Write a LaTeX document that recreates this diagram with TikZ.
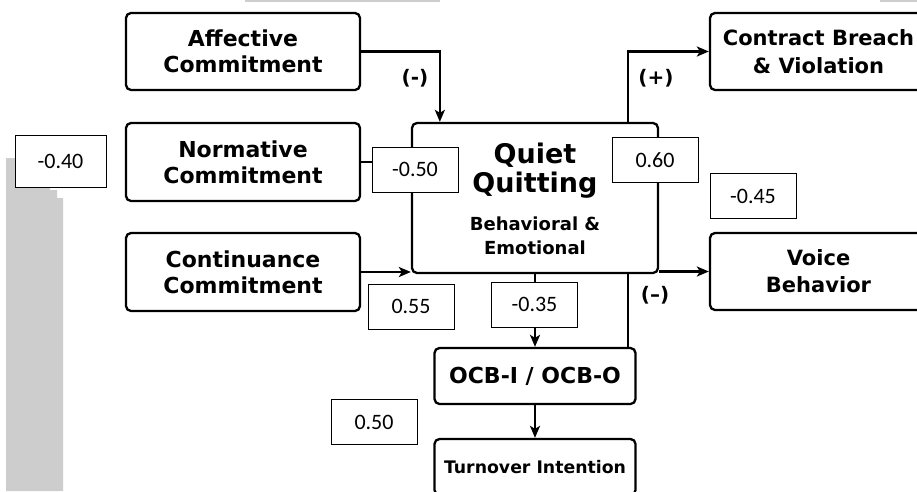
\documentclass[tikz,border=0pt]{standalone}
\usepackage{fontspec}
\setmainfont{DejaVu Sans}
\newfontfamily\valfont{Carlito}
\usetikzlibrary{arrows.meta,positioning}
\definecolor{stripgray}{RGB}{205,205,205}

\begin{document}
\begin{tikzpicture}[
    x=1pt, y=-1pt,
    box/.style={draw, line width=2.3pt, rounded corners=5pt, align=center, inner sep=0pt,
        font=\bfseries\fontsize{22}{26}\selectfont},
    val/.style={draw, line width=0.8pt, fill=white, minimum width=86pt, minimum height=45pt,
        inner sep=0pt, font=\valfont\fontsize{22}{26}\selectfont},
    sign/.style={font=\bfseries\fontsize{20}{24}\selectfont},
    arr/.style={line width=2.3pt, -{Stealth[length=12pt,width=10pt,inset=3pt]}},
    link/.style={line width=2.3pt}
]
\useasboundingbox (0,0) rectangle (917,491);
\fill[white] (0,0) rectangle (917,491);

% grey strip at the left and top
\fill[stripgray] (6,158) -- (50,158) -- (50,190) -- (57,190) -- (57,198) -- (63,198) -- (63,491) -- (6,491) -- cycle;
\fill[stripgray] (245,0) rectangle (440,1.5);
\fill[stripgray] (880,0) rectangle (917,1.5);

% commitment boxes
\node[box, minimum width=234, minimum height=77] (aff) at (243,51.5) {Affective\\Commitment};
\node[box, minimum width=234, minimum height=78] (norm) at (243,162) {Normative\\Commitment};
\node[box, minimum width=234, minimum height=78] (cont) at (243,272) {Continuance\\Commitment};

% centre
\node[box, minimum width=246, minimum height=150] (qq) at (535,198) {};
\node[font=\bfseries\fontsize{27}{29}\selectfont, align=center, inner sep=0pt] (qqtitle) at (535,171) {Quiet\\Quitting};
\node[font=\bfseries\fontsize{18}{24}\selectfont, align=center, inner sep=0pt] (qqsub) at (535,236) {Behavioral \&\\Emotional};

% outcomes
\node[box, minimum width=217, minimum height=77, font=\bfseries\fontsize{21}{28}\selectfont] (cb) at (818.5,51.5) {Contract Breach\\\& Violation};
\node[box, minimum width=217, minimum height=77, font=\bfseries\fontsize{21}{27}\selectfont] (vb) at (818.5,271.5) {Voice\\Behavior};
\node[box, minimum width=201, minimum height=56, font=\bfseries\fontsize{22}{26}\selectfont] (ocb) at (535,376) {OCB-I / OCB-O};
\node[box, minimum width=201, minimum height=56, font=\bfseries\fontsize{17.3}{20}\selectfont] (ti) at (535,467) {Turnover Intention};

% connectors
\draw[arr] (aff.east) -| ([xshift=29pt]qq.north west);
\draw[arr] (norm.east) -- (norm.east -| qq.west);
\draw[arr] (cont.east) -- (cont.east -| qq.west);
\draw[arr] ([xshift=-31pt]qq.north east) |- (cb.west);
\draw[arr] (qq.east |- vb.west) -- (vb.west);
\draw[arr] (qq.south) -- (ocb.north);
\draw[link] ([xshift=-31pt]qq.south east) -- ([xshift=-31pt]qq.south east |- ocb.north);
\draw[arr] (ocb.south) -- (ti.north);

% signs
\node[sign] (s1) at (415,78) {(-)};
\node[sign] (s2) at (656,78) {(+)};
\node[sign] (s3) at (655,295) {(--)};

% values
\node[val, minimum width=91, minimum height=52] (val1) at (60.5,161) {-0.40};
\node[val] (val2) at (415,169.5) {-0.50};
\node[val] (val3) at (655,160) {0.60};
\node[val] (val4) at (753,196) {-0.45};
\node[val] (val5) at (411,306.5) {0.55};
\node[val] (val6) at (534.5,304.5) {-0.35};
\node[val] (val7) at (374,422) {0.50};
\end{tikzpicture}
\end{document}
